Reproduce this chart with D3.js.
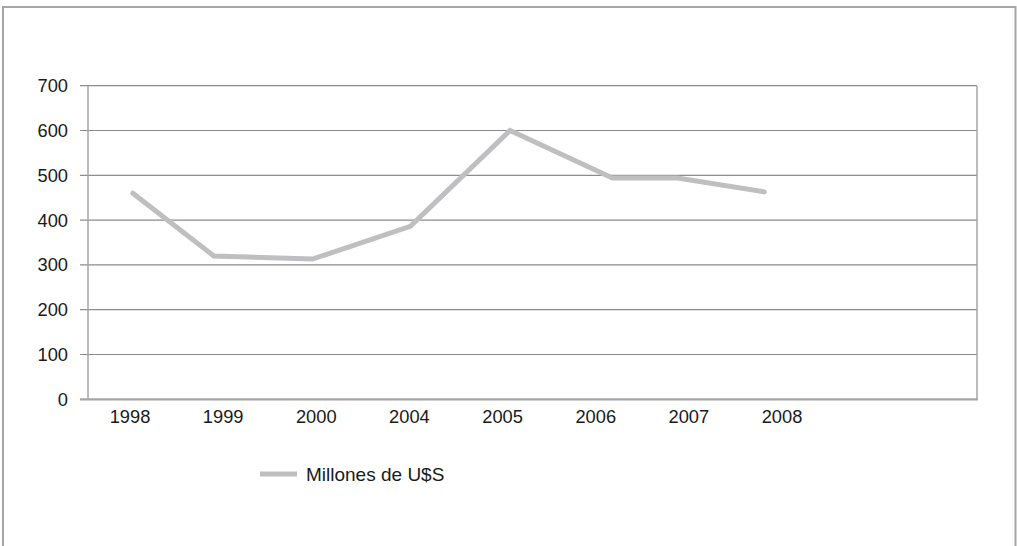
<!DOCTYPE html>
<html><head><meta charset="utf-8">
<script src="https://cdn.jsdelivr.net/npm/d3@7"></script>
<style>body{margin:0;background:#fff;} text{font-family:"Liberation Sans",Arial,sans-serif;}</style>
</head><body>
<svg id="c" width="1017" height="546"></svg>
<script>
const categories = ["1998","1999","2000","2004","2005","2006","2007","2008"];
// point positions along the category axis (in category units)
const pointPos = [0.03, 0.90, 1.96, 3.01, 4.08, 5.18, 5.88, 6.81];
const values = [460, 320, 313, 386, 600, 494, 494, 463];
const yTicks = [0,100,200,300,400,500,600,700];
const seriesName = "Millones de U$S";

const svg = d3.select("#c");
const plot = {left:88, right:977, top:85.7, bottom:399.3};
const fs = 18.3;

// outer frame
svg.append("path").attr("d","M3,560 L3,7 L1015.5,7 L1015.5,560")
  .attr("fill","none").attr("stroke","#a6a6a6").attr("stroke-width",2);

const y = d3.scaleLinear().domain([0,700]).range([plot.bottom, plot.top]);
const x = d3.scaleLinear().domain([0,7]).range([130, 782]);

// gridlines
svg.append("g").selectAll("line").data(yTicks.filter(d=>d>0)).join("line")
  .attr("x1",80).attr("x2",plot.right).attr("y1",d=>y(d)).attr("y2",d=>y(d))
  .attr("stroke","#8c8c8c").attr("stroke-width",1.2);

// right border of plot
svg.append("line").attr("x1",plot.right).attr("x2",plot.right).attr("y1",plot.top).attr("y2",plot.bottom)
  .attr("stroke","#a6a6a6").attr("stroke-width",1.5);
// left axis line
svg.append("line").attr("x1",plot.left).attr("x2",plot.left).attr("y1",plot.top).attr("y2",plot.bottom)
  .attr("stroke","#a6a6a6").attr("stroke-width",1.5);
// baseline
svg.append("line").attr("x1",80).attr("x2",plot.right+1).attr("y1",y(0)).attr("y2",y(0))
  .attr("stroke","#a6a6a6").attr("stroke-width",2.2);

// y labels
svg.append("g").selectAll("text").data(yTicks).join("text")
  .attr("x",68).attr("y",d=>y(d)).attr("dy","0.36em").attr("text-anchor","end")
  .attr("font-size",fs).attr("fill","#1a1a1a").text(d=>d);

// x labels
svg.append("g").selectAll("text").data(categories).join("text")
  .attr("x",(d,i)=>x(i)).attr("y",423).attr("text-anchor","middle")
  .attr("font-size",fs).attr("fill","#1a1a1a").text(d=>d);

// line
const line = d3.line().x((d,i)=>x(pointPos[i])).y(d=>y(d));
svg.append("path").datum(values).attr("d",line)
  .attr("fill","none").attr("stroke","#bfbfc2").attr("stroke-width",5)
  .attr("stroke-linejoin","miter").attr("stroke-linecap","round");

// legend
svg.append("line").attr("x1",260).attr("x2",297).attr("y1",474).attr("y2",474)
  .attr("stroke","#bfbfc2").attr("stroke-width",5);
svg.append("text").attr("x",306).attr("y",480.5).attr("font-size",fs+0.7).attr("fill","#1a1a1a").text(seriesName);
</script>
</body></html>
